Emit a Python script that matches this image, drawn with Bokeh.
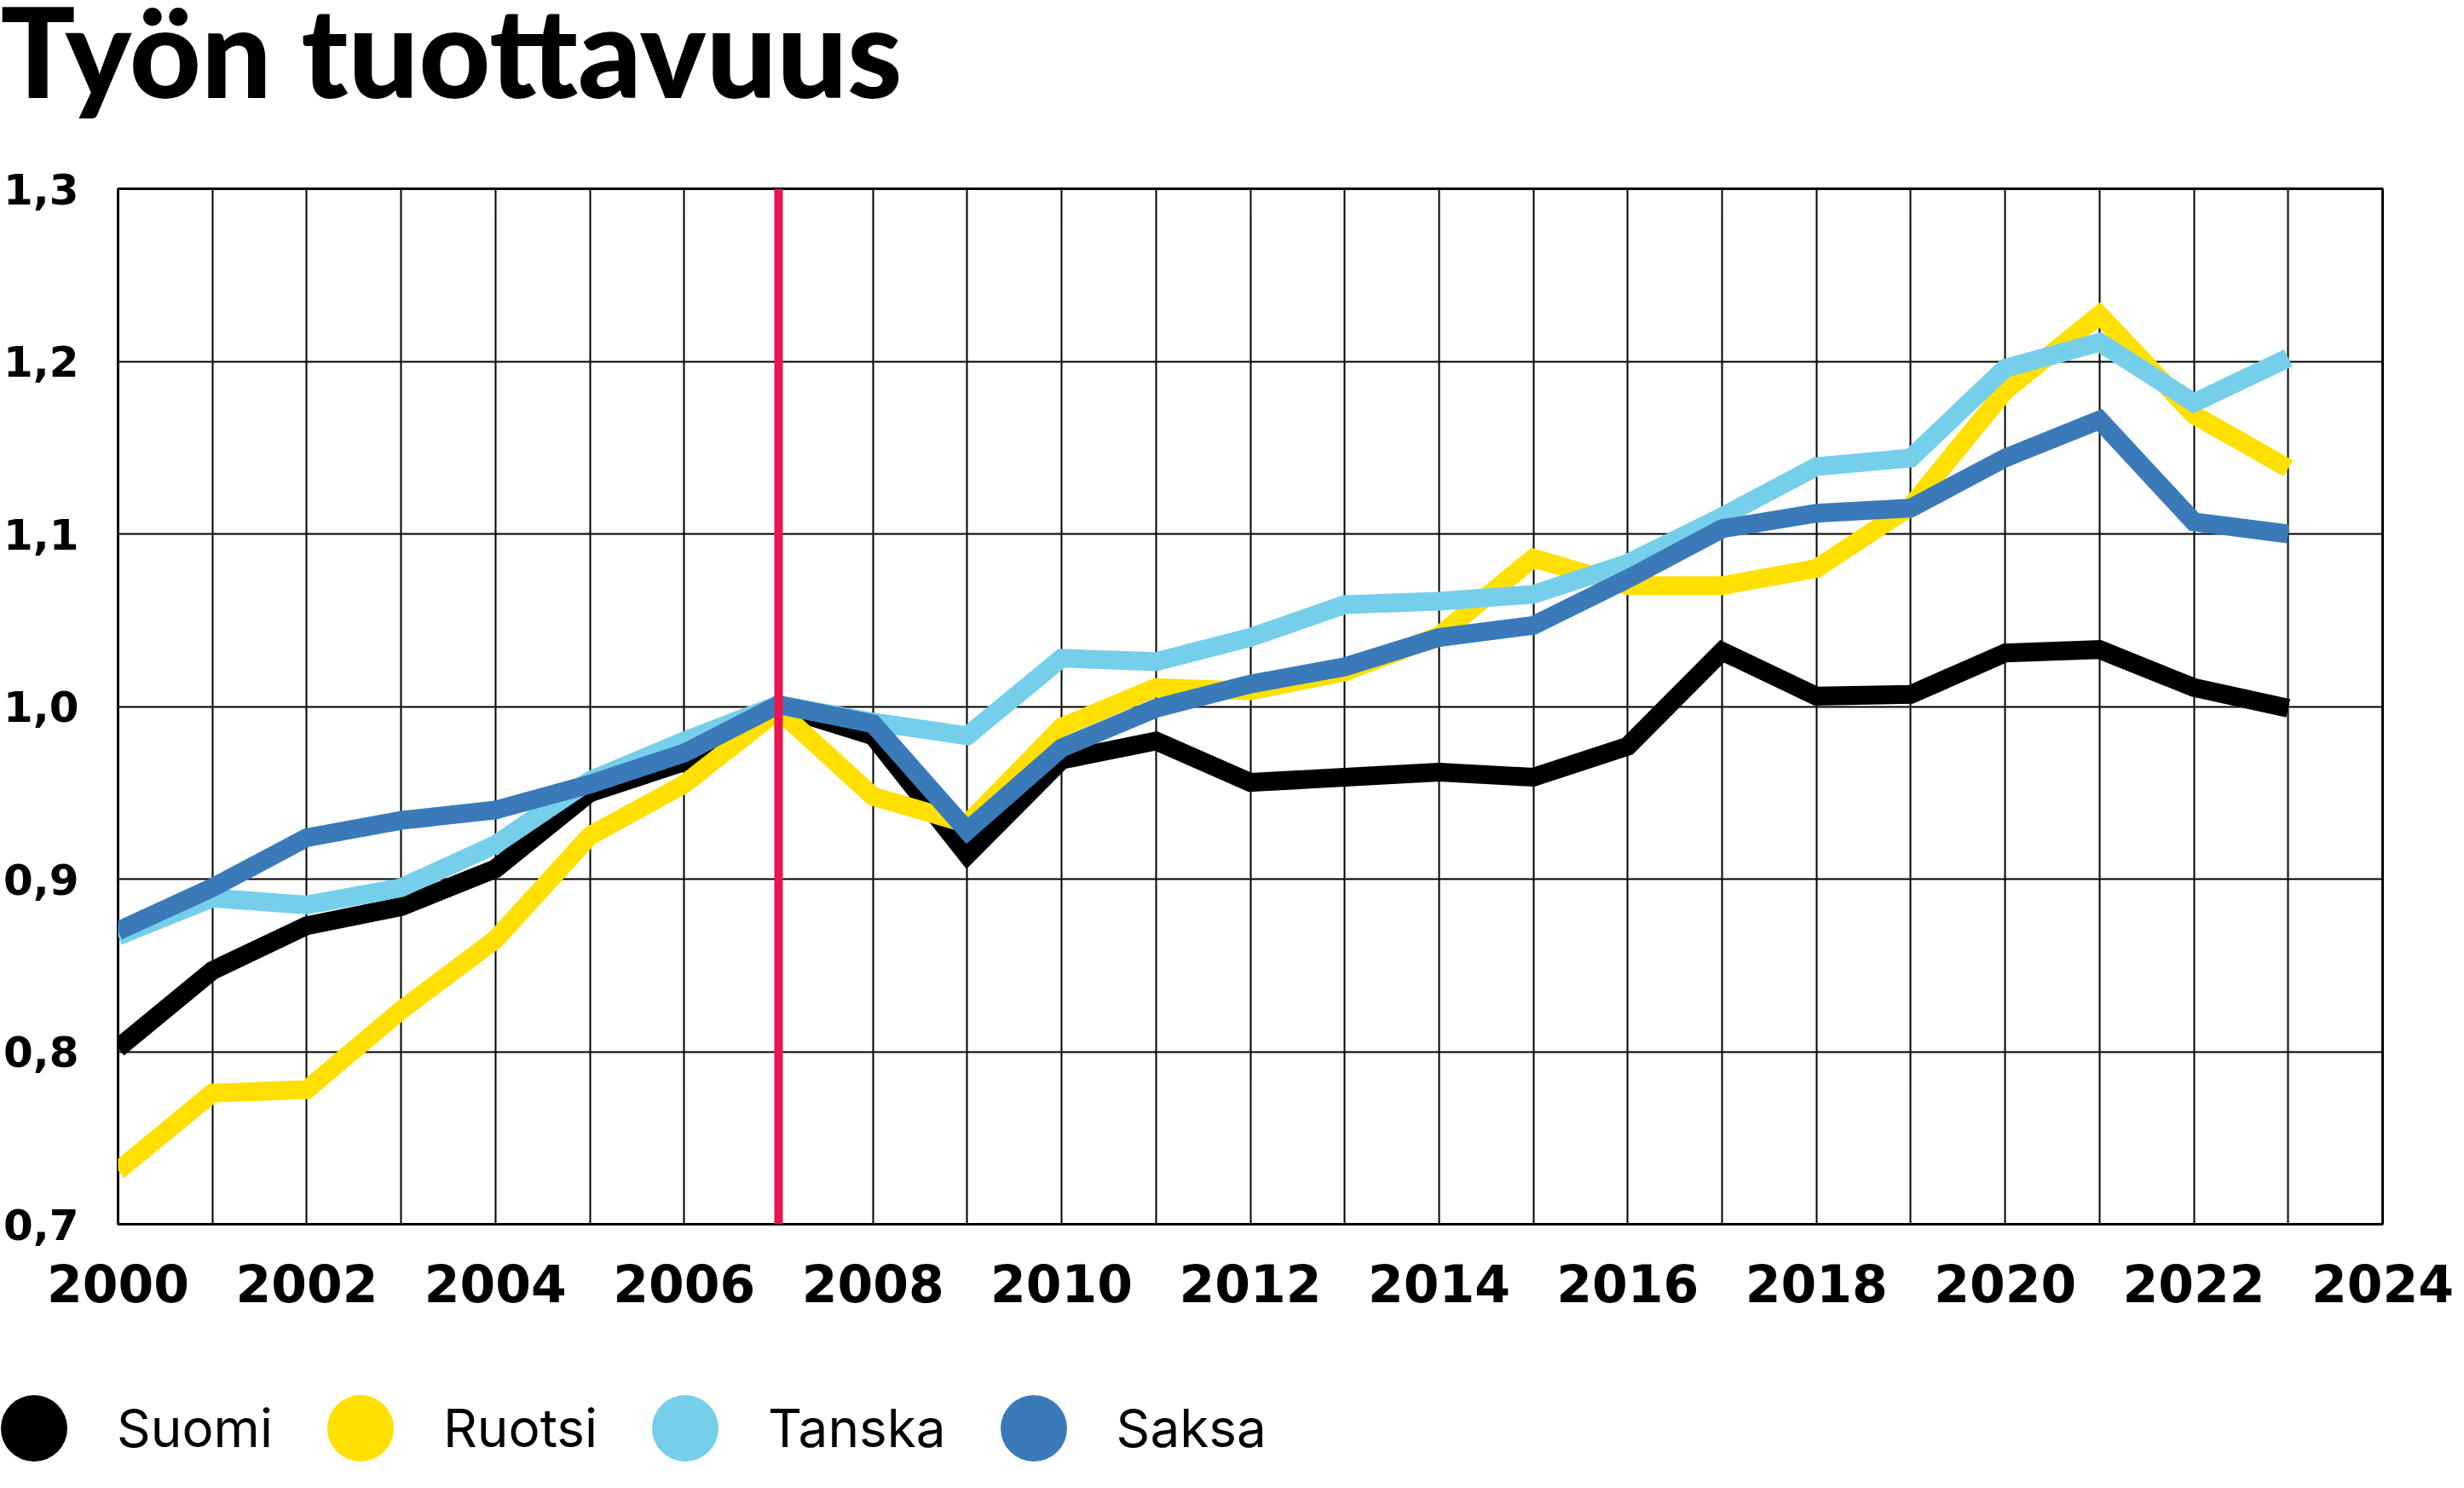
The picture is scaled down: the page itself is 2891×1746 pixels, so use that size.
from bokeh.plotting import figure
from bokeh.models import FixedTicker, Span, Legend, LegendItem, CustomJSTickFormatter, Label
from bokeh.layouts import column
from bokeh.embed import file_html
from bokeh.resources import INLINE

# ---- data ----
title_text = "Työn tuottavuus"
years = list(range(2000, 2024))
suomi = [0.802, 0.847, 0.873, 0.884, 0.906, 0.950, 0.968, 1.000, 0.983, 0.914, 0.969, 0.980,
         0.956, 0.959, 0.962, 0.959, 0.977, 1.032, 1.006, 1.007, 1.031, 1.033, 1.011, 0.999]
ruotsi = [0.731, 0.776, 0.778, 0.824, 0.865, 0.925, 0.955, 0.998, 0.948, 0.932, 0.988, 1.011,
          1.009, 1.020, 1.041, 1.086, 1.070, 1.070, 1.080, 1.116, 1.183, 1.227, 1.169, 1.138]
tanska = [0.867, 0.889, 0.885, 0.895, 0.920, 0.957, 0.980, 1.001, 0.991, 0.983, 1.028, 1.026,
          1.040, 1.059, 1.061, 1.065, 1.083, 1.110, 1.139, 1.144, 1.196, 1.211, 1.176, 1.202]
saksa = [0.870, 0.895, 0.924, 0.934, 0.940, 0.955, 0.973, 1.001, 0.990, 0.928, 0.976, 0.999,
         1.013, 1.023, 1.040, 1.047, 1.074, 1.103, 1.112, 1.115, 1.144, 1.166, 1.107, 1.100]
series_names = ["Suomi", "Ruotsi", "Tanska", "Saksa"]
series_values = [suomi, ruotsi, tanska, saksa]
colors = ["#000000", "#FFE000", "#76CFEA", "#3A7AB9"]
grid_years = list(range(2000, 2025))
x_ticks = list(range(2000, 2025, 2))
y_ticks = [0.7, 0.8, 0.9, 1.0, 1.1, 1.2, 1.3]
marker_year = 2007

W = 2891
H_TITLE, H_MAIN, H_LEG = 158, 1442, 146


def no_align(f):
    if "frame_align" in f.properties():
        f.frame_align = False


def strip(height):
    f = figure(width=W, height=height, output_backend="svg", toolbar_location=None,
               title=None, x_axis_type=None, y_axis_type=None,
               x_range=(0, W), y_range=(0, height),
               min_border=0, min_border_left=0, min_border_right=0,
               min_border_top=0, min_border_bottom=0)
    f.outline_line_color = None
    f.background_fill_color = "white"
    f.border_fill_color = "white"
    no_align(f)
    return f


# ---- title strip ----
pt = strip(H_TITLE)
pt.add_layout(Label(x=0, y=100, x_units="data", y_units="data", text=title_text,
                    text_font="'Lato Black', Lato, sans-serif", text_font_style="bold",
                    text_font_size="146px", text_color="black", text_baseline="alphabetic",
                    text_align="left"))

# ---- main chart ----
p = figure(width=W, height=H_MAIN, x_range=(2000, 2024), y_range=(0.7, 1.3),
           output_backend="svg", toolbar_location=None, title=None,
           min_border_left=133, min_border_right=96, min_border_top=63, min_border_bottom=164)
no_align(p)
p.background_fill_color = "white"
p.border_fill_color = "white"
p.outline_line_color = "black"
p.outline_line_width = 3

p.xgrid.ticker = FixedTicker(ticks=grid_years)
p.ygrid.ticker = FixedTicker(ticks=y_ticks)
for g in (p.xgrid, p.ygrid):
    g.grid_line_color = "black"
    g.grid_line_width = 2
    g.grid_line_alpha = 1.0

p.xaxis.ticker = FixedTicker(ticks=x_ticks)
p.yaxis.ticker = FixedTicker(ticks=y_ticks)
p.yaxis.formatter = CustomJSTickFormatter(code="return tick.toFixed(1).replace('.', ',');")
for ax in (p.xaxis, p.yaxis):
    ax.axis_line_color = None
    ax.major_tick_line_color = None
    ax.minor_tick_line_color = None
    ax.major_label_text_font = "DejaVu Sans"
    ax.major_label_text_font_style = "bold"
    ax.major_label_text_color = "black"
p.xaxis.major_label_text_font_size = "60px"
p.xaxis.major_label_standoff = 40
p.yaxis.major_label_text_font_size = "50px"
p.yaxis.major_label_standoff = 40

for name, vals, col in zip(series_names, series_values, colors):
    p.line(years, vals, line_width=22, line_color=col, line_join="miter", line_cap="butt")

p.add_layout(Span(location=marker_year, dimension="height", line_color="#E8154F", line_width=10))

# ---- legend strip ----
pl = strip(H_LEG)
items = []
for name, vals, col in zip(series_names, series_values, colors):
    r = pl.scatter(years, vals, marker="circle", size=0, fill_color=col, line_color=None)
    items.append(LegendItem(label=name, renderers=[r]))
legend = Legend(items=items, location=(-58, -27), orientation="horizontal",
                glyph_width=195, glyph_height=195, label_standoff=0, spacing=5,
                padding=0, margin=0, border_line_alpha=0, background_fill_alpha=0,
                label_text_font="Inter", label_text_font_size="62px", label_text_color="black")
pl.add_layout(legend)

layout = column(pt, p, pl, spacing=0)
open("out.html", "w").write(file_html(layout, INLINE))
